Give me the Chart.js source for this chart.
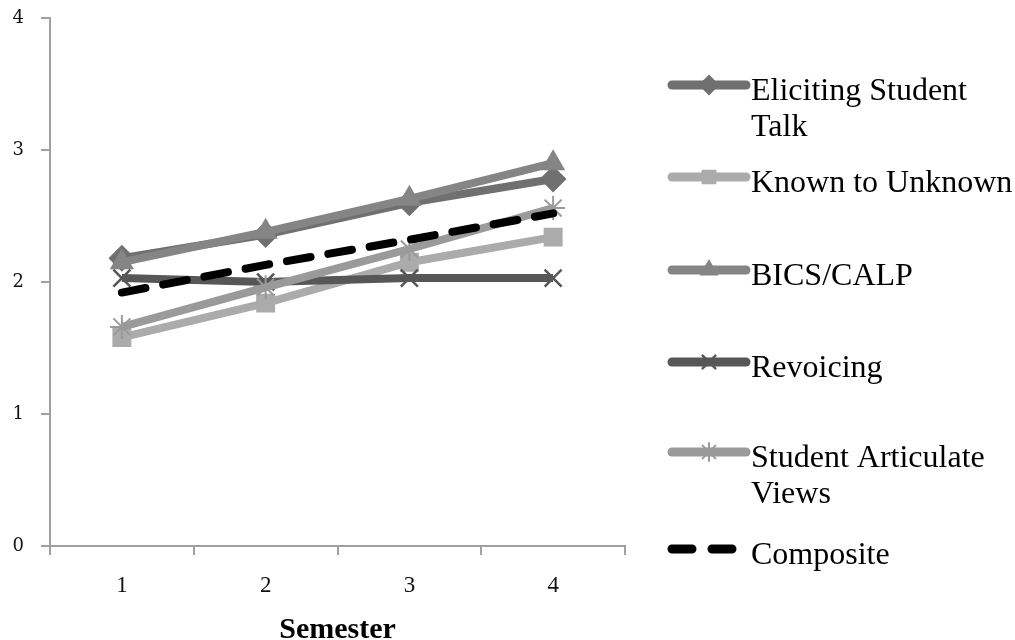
<!DOCTYPE html>
<html>
<head>
<meta charset="utf-8">
<script src="https://cdn.jsdelivr.net/npm/chart.js@4/dist/chart.umd.min.js"></script>
<style>
  html, body { margin: 0; padding: 0; background: #fff; }
  #wrap { width: 1015px; height: 640px; position: relative; }
</style>
</head>
<body>
<div id="wrap"><canvas id="semesterChart"></canvas></div>
<script>
// Semester categories and y ticks
const semesters = ["1", "2", "3", "4"];
const yTicks = [0, 1, 2, 3, 4];

// Series values
const elicitingTalk = [2.18, 2.36, 2.60, 2.78];
const knownToUnknown = [1.58, 1.84, 2.15, 2.34];
const bicsCalp = [2.15, 2.38, 2.63, 2.90];
const revoicing = [2.03, 2.00, 2.03, 2.03];
const studentViews = [1.66, 1.96, 2.25, 2.56];
const composite = [1.92, 2.13, 2.32, 2.52];

const seriesNames = [
    ["Eliciting Student", "Talk"],
    ["Known to Unknown"],
    ["BICS/CALP"],
    ["Revoicing"],
    ["Student Articulate", "Views"],
    ["Composite"]
];

const axisGray = "#a0a0a0";

function series(label, data, color, style, radius, extra) {
    return Object.assign({
        label: label.join(" "),
        data: data,
        borderColor: color,
        backgroundColor: color,
        borderWidth: 8,
        pointStyle: style,
        pointRadius: radius,
        pointHoverRadius: radius,
        pointBorderWidth: 2,
        pointBackgroundColor: color,
        pointBorderColor: color,
        tension: 0,
        fill: false
    }, extra || {});
}

const datasets = [
    series(seriesNames[0], elicitingTalk, "#707070", "rectRot", 12, { order: 5 }),
    series(seriesNames[1], knownToUnknown, "#ababab", "rect", 12, { order: 4 }),
    series(seriesNames[2], bicsCalp, "#858585", "triangle", 12, { order: 3 }),
    series(seriesNames[3], revoicing, "#575757", "crossRot", 12, { order: 2, pointBorderWidth: 2.5 }),
    series(seriesNames[4], studentViews, "#9a9a9a", "star", 12, { order: 1, pointBorderWidth: 2 }),
    series(seriesNames[5], composite, "#000000", false, 0, { order: 0, borderDash: [24, 18], borderCapStyle: "round" })
];

// Legend drawn at the right with the same styles as the lines
const legendLayout = {
    lineX0: 672, lineX1: 746, textX: 751,
    rows: [85, 177, 270, 362, 452, 549],
    lineGap: 36
};

const sideLegend = {
    id: "sideLegend",
    afterDraw(chart) {
        const ctx = chart.ctx;
        ctx.save();
        chart.data.datasets.forEach(function (ds, i) {
            const y = legendLayout.rows[i];
            ctx.beginPath();
            ctx.lineWidth = 9;
            ctx.lineCap = "round";
            ctx.strokeStyle = ds.borderColor;
            ctx.setLineDash(ds.borderDash ? [20, 20] : []);
            ctx.moveTo(legendLayout.lineX0, y);
            ctx.lineTo(legendLayout.lineX1, y);
            ctx.stroke();
            ctx.setLineDash([]);
            if (ds.pointStyle && Chart.helpers && Chart.helpers.drawPoint) {
                ctx.fillStyle = ds.pointBackgroundColor;
                ctx.strokeStyle = ds.pointBorderColor;
                ctx.lineWidth = ds.pointBorderWidth;
                Chart.helpers.drawPoint(ctx, {
                    pointStyle: ds.pointStyle,
                    radius: 9,
                    borderWidth: ds.pointBorderWidth,
                    rotation: 0
                }, (legendLayout.lineX0 + legendLayout.lineX1) / 2, y);
            }
            ctx.fillStyle = "#000";
            ctx.font = "32px 'Liberation Serif', 'Times New Roman', serif";
            ctx.textBaseline = "middle";
            ctx.textAlign = "left";
            seriesNames[i].forEach(function (line, k) {
                ctx.fillText(line, legendLayout.textX, y + 7 + k * legendLayout.lineGap);
            });
        });
        ctx.restore();
    }
};

const ctx = document.getElementById("semesterChart").getContext("2d");
const semesterChart = new Chart(ctx, {
    type: "line",
    data: { labels: semesters, datasets: datasets },
    plugins: [sideLegend],
    options: {
        responsive: true,
        maintainAspectRatio: false,
        animation: false,
        layout: { autoPadding: false, padding: { left: 0, top: 18, right: 390, bottom: 0 } },
        plugins: {
            legend: { display: false },
            tooltip: { enabled: false }
        },
        scales: {
            x: {
                type: "category",
                offset: true,
                grid: {
                    offset: true,
                    drawOnChartArea: false,
                    drawTicks: true,
                    tickLength: 9,
                    color: axisGray,
                    lineWidth: 2
                },
                border: { color: axisGray, width: 2 },
                ticks: {
                    color: "#111",
                    padding: 17,
                    font: { family: "'Liberation Serif', serif", size: 23 }
                },
                title: {
                    display: true,
                    text: "Semester",
                    color: "#000",
                    padding: { top: 0, bottom: -5 },
                    font: { family: "'Liberation Serif', serif", size: 30, weight: "bold", lineHeight: 1 }
                },
                afterFit(scale) {
                    scale.height = 94;
                    scale.paddingLeft = 0;
                    scale.paddingRight = 0;
                }
            },
            y: {
                min: 0,
                max: 4,
                afterBuildTicks(scale) { scale.ticks = yTicks.map(v => ({ value: v })); },
                grid: {
                    drawOnChartArea: false,
                    drawTicks: true,
                    tickLength: 9,
                    color: axisGray,
                    lineWidth: 2
                },
                border: { color: axisGray, width: 2 },
                ticks: {
                    color: "#111",
                    padding: 17,
                    font: { family: "'DejaVu Serif', serif", size: 18 }
                },
                afterFit(scale) {
                    scale.width = 50;
                    scale.paddingTop = 0;
                    scale.paddingBottom = 0;
                }
            }
        }
    }
});
</script>
</body>
</html>
